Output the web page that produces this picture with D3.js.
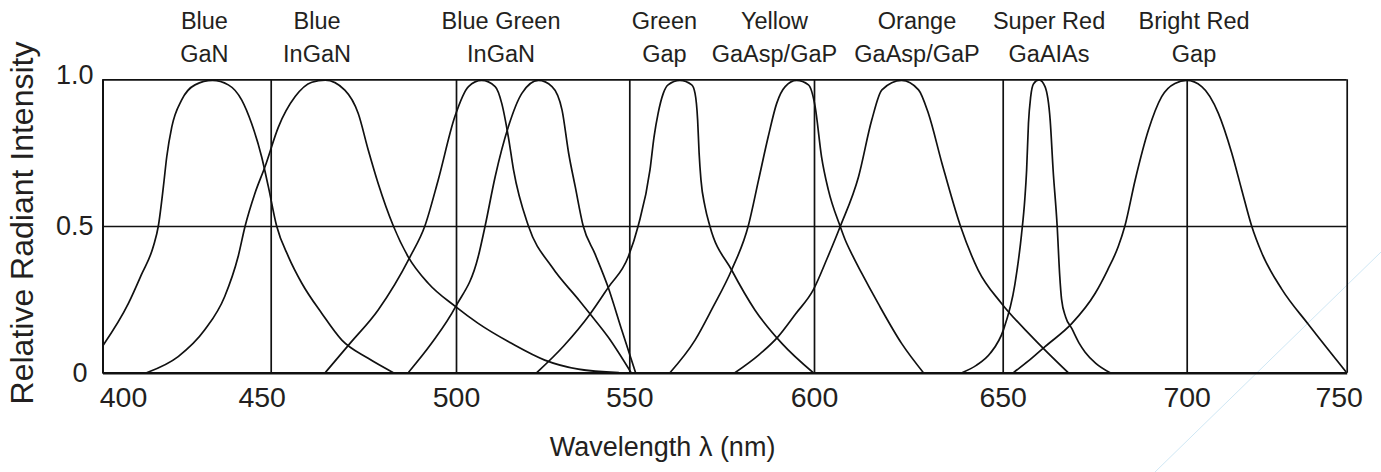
<!DOCTYPE html>
<html>
<head>
<meta charset="utf-8">
<script src="https://cdn.jsdelivr.net/npm/d3@7"></script>
<style>
  body { margin: 0; background: #fff; }
  svg { display: block; font-family: "Liberation Sans", Arial, Helvetica, sans-serif; }
</style>
</head>
<body>
<main></main>
<script>
const width = 1381;
const height = 472;

// axis ticks
const wavelengthTicks = [400, 450, 500, 550, 600, 650, 700, 750];
const intensityTicks = [0, 0.5, 1];
const intensityLabels = ["0", "0.5", "1.0"];

// LED labels above the chart and the wavelength they sit over
const ledTop = ["Blue", "Blue", "Blue Green", "Green", "Yellow", "Orange", "Super Red", "Bright Red"];
const ledBottom = ["GaN", "InGaN", "InGaN", "Gap", "GaAsp/GaP", "GaAsp/GaP", "GaAIAs", "Gap"];
const ledLabelAt = [430.3, 462.5, 513, 559.5, 589.3, 627.3, 662.6, 702.3];

// spectra: [wavelength nm, relative intensity]
const blueGaN = [[400, 0.09], [407.7, 0.236], [411.6, 0.335], [415.1, 0.43], [416.6, 0.5], [418.1, 0.634],
  [419.1, 0.736], [420.6, 0.838], [423.5, 0.929], [427.5, 0.981], [432.7, 0.996], [437.4, 0.981], [441.4, 0.929],
  [444.3, 0.85], [447.3, 0.736], [449.3, 0.634], [451.6, 0.5], [454.8, 0.395], [458.4, 0.305], [463.8, 0.202],
  [469.2, 0.111], [476.3, 0.049], [483.1, 0]];
const blueInGaN = [[413.1, 0], [422.5, 0.055], [430.4, 0.146], [436.3, 0.259], [440.3, 0.395], [442.4, 0.5],
  [445.3, 0.611], [448.3, 0.702], [452.1, 0.838], [456.6, 0.941], [461.1, 0.99], [464.7, 0.997], [470, 0.963],
  [473.6, 0.884], [476.3, 0.76], [479, 0.645], [483.1, 0.5], [487.1, 0.395], [492.5, 0.305], [499.9, 0.225],
  [506.4, 0.168], [516, 0.1], [525.6, 0.043], [535.3, 0.012], [547, 0]];
const blueGreenA = [[464.7, 0], [471.4, 0.1], [479, 0.214], [487.6, 0.395], [491.6, 0.5], [495.2, 0.657],
  [499.7, 0.873], [503.6, 0.975], [507.4, 0.996], [511.3, 0.975], [513.2, 0.918], [515.1, 0.804], [516.6, 0.691],
  [520.9, 0.5], [527.7, 0.36], [535.3, 0.25], [538.7, 0.2], [544, 0.12], [550.5, 0]];
const blueGreenB = [[487.1, 0], [493.4, 0.1], [499.9, 0.225], [506.4, 0.395], [508.4, 0.5], [511.3, 0.668],
  [515.1, 0.838], [519, 0.952], [523.8, 0.996], [527.7, 0.975], [530.6, 0.895], [532.5, 0.748], [534.4, 0.634],
  [536.7, 0.5], [540.1, 0.405], [543.9, 0.291], [547.8, 0.146], [551.7, 0]];
const greenGaP = [[523.3, 0], [531, 0.09], [538.7, 0.2], [543.9, 0.29], [549.7, 0.395], [552.4, 0.5],
  [555.6, 0.691], [556.7, 0.804], [557.8, 0.884], [559.2, 0.952], [560.5, 0.981], [563.7, 0.996], [566.9, 0.981],
  [567.8, 0.952], [568.5, 0.861], [568.9, 0.748], [569.4, 0.657], [570.5, 0.566], [571.8, 0.5], [577.7, 0.35],
  [584, 0.214], [591.3, 0.1], [599.8, 0]];
const yellowGaAsP = [[561, 0], [567.8, 0.111], [572.5, 0.22], [577.7, 0.35], [582.2, 0.5], [585, 0.657],
  [587.6, 0.804], [589.9, 0.918], [592.2, 0.975], [595.3, 0.996], [598.5, 0.981], [600.3, 0.907], [602, 0.736],
  [603.8, 0.623], [606.9, 0.5], [608.2, 0.455], [610.2, 0.4], [612.6, 0.34], [617, 0.236], [623.2, 0.1], [629, 0]];
const orangeGaAsP = [[578.6, 0], [585, 0.06], [590.3, 0.123], [595, 0.2], [599.8, 0.282], [603.5, 0.39],
  [607, 0.5], [611.8, 0.668], [615.3, 0.861], [618, 0.964], [623.2, 0.996], [627.7, 0.964], [630.3, 0.884],
  [633.9, 0.714], [638.8, 0.5], [643.5, 0.35], [649.7, 0.236], [657.9, 0.123], [667.8, 0]];
const superRedGaAlAs = [[639.2, 0], [643, 0.025], [646.7, 0.066], [650.2, 0.146], [653.3, 0.3], [655.1, 0.47],
  [656, 0.59], [656.5, 0.691], [657, 0.85], [657.6, 0.94], [658.4, 0.985], [659.9, 0.998], [661.5, 0.975],
  [662.9, 0.861], [663.7, 0.691], [664.8, 0.5], [665.5, 0.33], [666, 0.25], [667.1, 0.19], [668.8, 0.15],
  [670.8, 0.1], [672.4, 0.07], [675.3, 0.032], [679.2, 0]];
const brightRedGaP = [[652.9, 0], [657, 0.04], [661.5, 0.089], [668.8, 0.168], [675.1, 0.27], [678.5, 0.35],
  [681.4, 0.43], [683.2, 0.5], [686, 0.657], [689.6, 0.827], [693.2, 0.941], [696.8, 0.986], [700, 0.996],
  [704.7, 0.975], [709.9, 0.884], [714.1, 0.748], [717.2, 0.623], [720.3, 0.5], [723.5, 0.407], [729.7, 0.285],
  [738, 0.165], [750, 0]];

const spectra = [blueGaN, blueInGaN, blueGreenA, blueGreenB, greenGaP, yellowGaAsP, orangeGaAsP, superRedGaAlAs, brightRedGaP];

const margin = { top: 79.3, bottom: 99.3, left: 102.5, right: 34.3 };
const plotH = height - margin.top - margin.bottom;
const plotW = width - margin.left - margin.right;

// the printed grid is not evenly spaced, so the scale is piecewise
const xScale = d3
  .scaleLinear()
  .domain(wavelengthTicks)
  .range([0, 168.2, 353.5, 526.8, 711.5, 900.2, 1084.2, plotW]);
const yScale = d3.scaleLinear().domain([0, 1]).range([plotH, 0]);

const svg = d3.select("main").append("svg").attr("width", width).attr("height", height);
svg.append("rect").attr("width", width).attr("height", height).attr("fill", "#fff");

// faint slide decoration in the corner
svg
  .append("line")
  .attr("x1", 1155)
  .attr("y1", 472)
  .attr("x2", 1381)
  .attr("y2", 252)
  .attr("stroke", "#cfe7f4")
  .attr("stroke-width", 1);

const plot = svg.append("g").attr("transform", `translate(${margin.left}, ${margin.top})`);

const xAxis = d3
  .axisBottom(xScale)
  .tickValues(wavelengthTicks)
  .tickFormat(d3.format("d"))
  .tickSize(-plotH)
  .tickSizeOuter(0)
  .tickPadding(14);
const yAxis = d3
  .axisLeft(yScale)
  .tickValues(intensityTicks)
  .tickFormat((d, i) => intensityLabels[i])
  .tickSize(-plotW)
  .tickSizeOuter(0)
  .tickPadding(9);

const labelShift = { 400: 20.5, 450: -9, 750: -8 };

const gx = plot.append("g").attr("id", "x-axis").attr("transform", `translate(0, ${plotH})`).call(xAxis);
gx.select(".domain").attr("stroke", "#111").attr("stroke-width", 2.4);
gx.selectAll(".tick line").attr("stroke", "#111").attr("stroke-width", 1.7);
gx.selectAll(".tick text")
  .attr("dx", (d) => labelShift[d] || 0)
  .attr("fill", "#231f20")
  .style("font-size", "28.5px");

const gy = plot.append("g").attr("id", "y-axis").call(yAxis);
gy.select(".domain").attr("stroke", "#111").attr("stroke-width", 2);
gy.selectAll(".tick line").attr("stroke", "#111").attr("stroke-width", 1.7);
gy.selectAll(".tick text")
  .attr("dx", (d) => (d === 0 ? -6 : 0))
  .attr("y", (d) => (d === 1 ? -4 : 0))
  .attr("fill", "#231f20")
  .style("font-size", "27px");

plot
  .append("clipPath")
  .attr("id", "plot-clip")
  .append("rect")
  .attr("width", plotW)
  .attr("height", plotH);

const line = d3
  .line()
  .x((d) => xScale(d[0]))
  .y((d) => yScale(d[1]))
  .curve(d3.curveMonotoneX);

plot
  .append("g")
  .attr("clip-path", "url(#plot-clip)")
  .selectAll("path")
  .data(spectra)
  .enter()
  .append("path")
  .attr("d", line)
  .attr("fill", "none")
  .attr("stroke", "#111")
  .attr("stroke-width", 1.7);

// LED names over each peak
const names = svg
  .append("g")
  .selectAll("text")
  .data(ledTop)
  .enter()
  .append("text")
  .attr("text-anchor", "middle")
  .attr("fill", "#231f20")
  .style("font-size", "23.5px");
names.append("tspan").attr("x", (d, i) => margin.left + xScale(ledLabelAt[i])).attr("y", 29.3).text((d) => d);
names
  .append("tspan")
  .attr("x", (d, i) => margin.left + xScale(ledLabelAt[i]))
  .attr("y", 61.7)
  .text((d, i) => ledBottom[i]);

svg
  .append("text")
  .attr("x", margin.left + plotW / 2 - 62)
  .attr("y", 456)
  .attr("text-anchor", "middle")
  .attr("fill", "#231f20")
  .style("font-size", "27px")
  .text("Wavelength λ (nm)");

svg
  .append("text")
  .attr("transform", "translate(33, 223) rotate(-90)")
  .attr("text-anchor", "middle")
  .attr("fill", "#231f20")
  .style("font-size", "32px")
  .text("Relative Radiant Intensity");
</script>
</body>
</html>
